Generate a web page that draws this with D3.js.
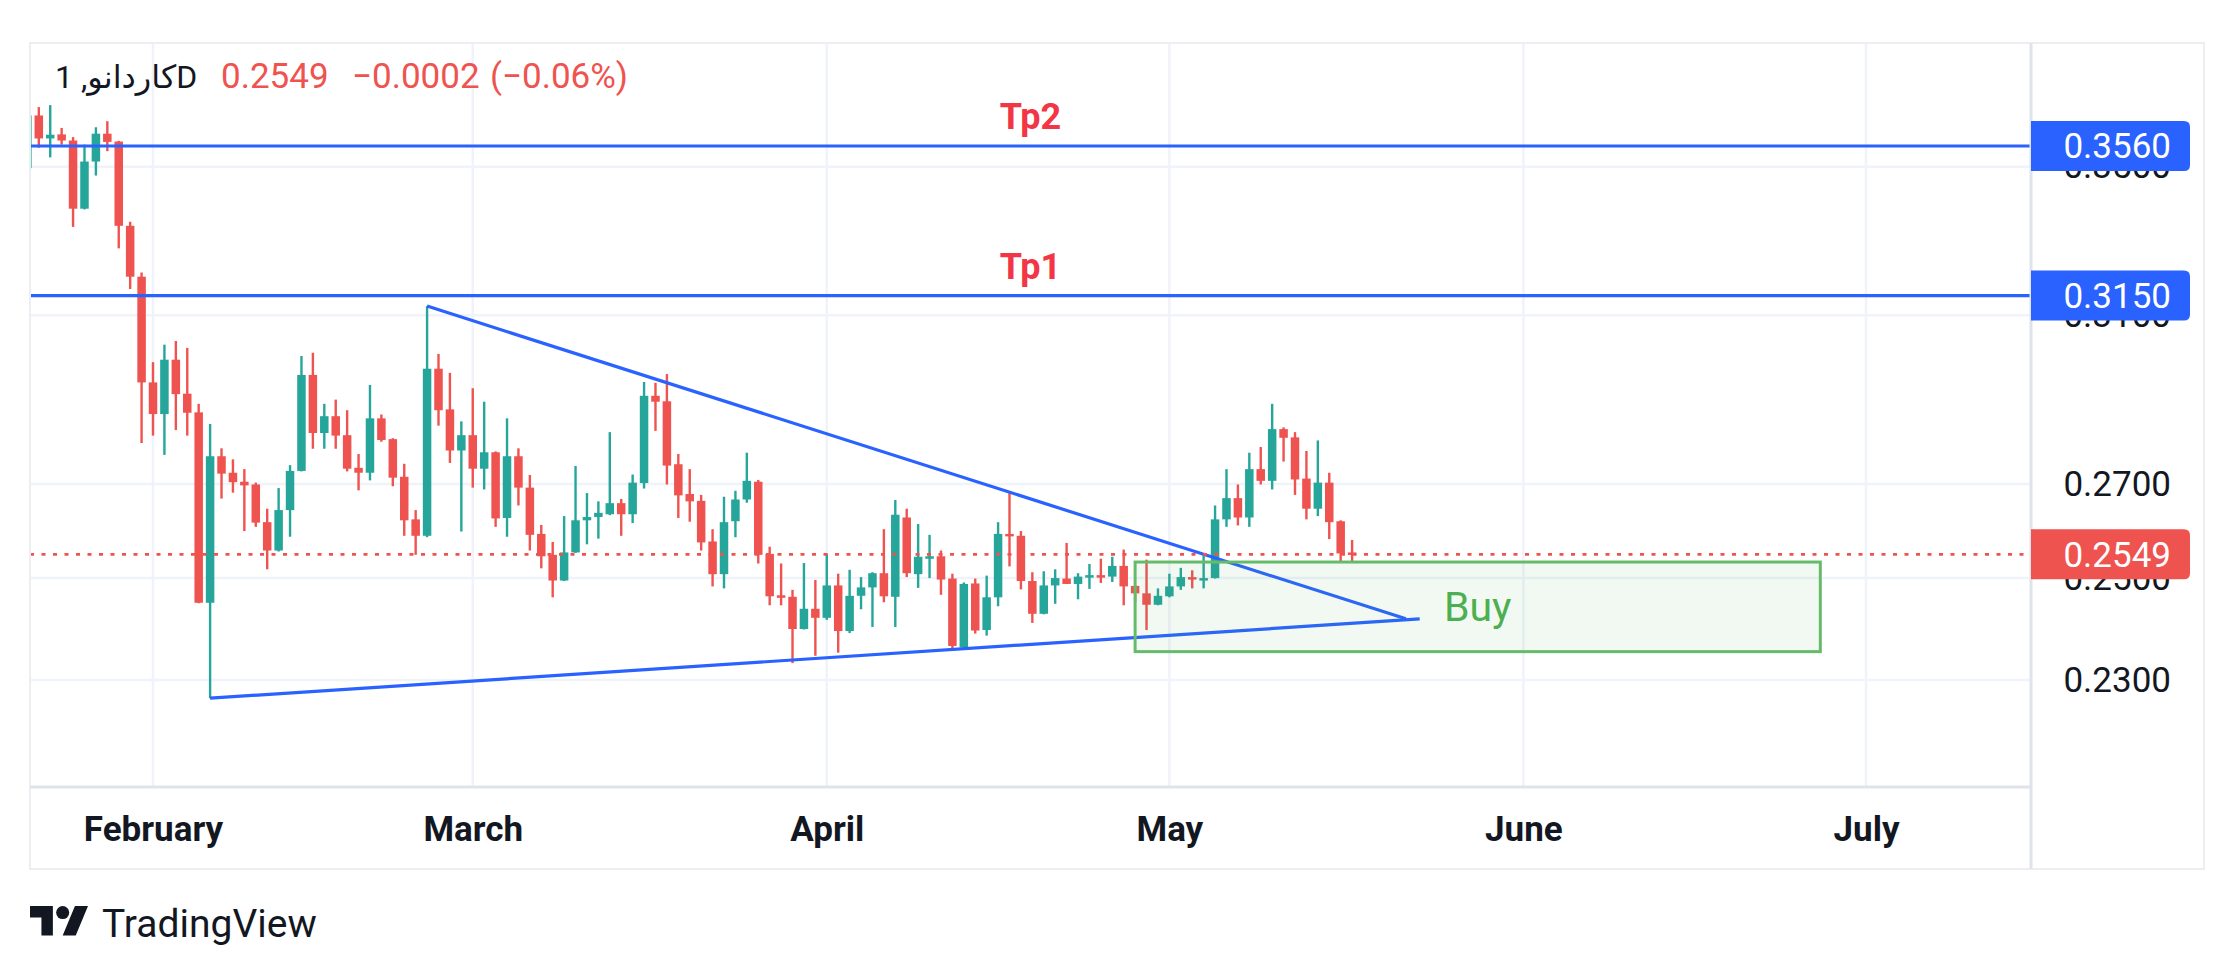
<!DOCTYPE html>
<html>
<head>
<meta charset="utf-8">
<script src="https://cdn.jsdelivr.net/npm/d3@7"></script>
<style>
  body { margin: 0; background: #fff; }
  text { font-family: Roboto, "DejaVu Sans", sans-serif; }
</style>
</head>
<body>
<script>
// daily candles, one per day from firstDay to lastDay
const firstDay = "2025-01-21";
const lastDay = "2025-05-17";

const opens = [
  0.3496,0.3650,0.3582,0.3594,0.3576,0.3382,0.3515,0.3596,0.3573,0.3335,
  0.3199,0.2934,0.2859,0.2989,0.2907,0.2863,0.2450,0.2762,0.2725,0.2705,
  0.2699,0.2617,0.2557,0.2643,0.2729,0.2952,0.2815,0.2854,0.2810,0.2736,
  0.2725,0.2849,0.2801,0.2716,0.2623,0.2588,0.2967,0.2870,0.2775,0.2810,
  0.2734,0.2771,0.2626,0.2762,0.2692,0.2592,0.2548,0.2495,0.2553,0.2621,
  0.2628,0.2634,0.2658,0.2634,0.2702,0.2902,0.2889,0.2744,0.2678,0.2663,
  0.2576,0.2508,0.2619,0.2666,0.2705,0.2550,0.2465,0.2462,0.2398,0.2438,
  0.2420,0.2485,0.2394,0.2464,0.2481,0.2510,0.2462,0.2627,0.2508,0.2544,
  0.2545,0.2499,0.2362,0.2489,0.2396,0.2461,0.2592,0.2588,0.2494,0.2428,
  0.2485,0.2499,0.2488,0.2502,0.2506,0.2503,0.2525,0.2484,0.2469,0.2446,
  0.2463,0.2483,0.2502,0.2497,0.2500,0.2623,0.2669,0.2627,0.2733,0.2707,
  0.2824,0.2805,0.2712,0.2646,0.2703,0.2619,0.2553
];
const highs = [
  0.3660,0.3675,0.3681,0.3613,0.3586,0.3564,0.3615,0.3633,0.3575,0.3346,
  0.3210,0.2983,0.3026,0.3035,0.3018,0.2883,0.2836,0.2780,0.2755,0.2733,
  0.2703,0.2646,0.2691,0.2742,0.2998,0.3006,0.2883,0.2893,0.2868,0.2767,
  0.2928,0.2858,0.2803,0.2745,0.2643,0.3123,0.3003,0.2957,0.2842,0.2920,
  0.2888,0.2773,0.2849,0.2780,0.2720,0.2611,0.2575,0.2630,0.2740,0.2680,
  0.2662,0.2817,0.2667,0.2721,0.2935,0.2933,0.2954,0.2767,0.2733,0.2676,
  0.2602,0.2672,0.2685,0.2770,0.2709,0.2565,0.2530,0.2476,0.2531,0.2496,
  0.2550,0.2509,0.2517,0.2502,0.2512,0.2602,0.2665,0.2646,0.2613,0.2590,
  0.2557,0.2509,0.2491,0.2499,0.2505,0.2617,0.2680,0.2598,0.2512,0.2514,
  0.2518,0.2573,0.2510,0.2529,0.2540,0.2544,0.2559,0.2486,0.2538,0.2479,
  0.2509,0.2521,0.2516,0.2549,0.2653,0.2733,0.2699,0.2770,0.2783,0.2883,
  0.2828,0.2817,0.2774,0.2798,0.2725,0.2621,0.2579
];
const lows = [
  0.3490,0.3555,0.3527,0.3564,0.3332,0.3380,0.3475,0.3545,0.3274,0.3167,
  0.2792,0.2809,0.2765,0.2822,0.2809,0.2449,0.2266,0.2668,0.2681,0.2598,
  0.2607,0.2518,0.2555,0.2586,0.2728,0.2779,0.2779,0.2779,0.2728,0.2686,
  0.2708,0.2795,0.2695,0.2588,0.2548,0.2585,0.2832,0.2747,0.2597,0.2692,
  0.2688,0.2607,0.2586,0.2653,0.2557,0.2520,0.2461,0.2494,0.2552,0.2570,
  0.2582,0.2632,0.2588,0.2615,0.2690,0.2820,0.2699,0.2626,0.2618,0.2557,
  0.2483,0.2479,0.2585,0.2659,0.2530,0.2445,0.2445,0.2332,0.2397,0.2346,
  0.2416,0.2352,0.2390,0.2437,0.2402,0.2451,0.2402,0.2502,0.2480,0.2500,
  0.2466,0.2358,0.2360,0.2389,0.2385,0.2443,0.2524,0.2477,0.2410,0.2427,
  0.2448,0.2488,0.2457,0.2478,0.2490,0.2492,0.2445,0.2451,0.2396,0.2445,
  0.2461,0.2476,0.2479,0.2479,0.2499,0.2607,0.2610,0.2607,0.2699,0.2688,
  0.2750,0.2676,0.2623,0.2630,0.2581,0.2532,0.2532
];
const closes = [
  0.3650,0.3582,0.3593,0.3576,0.3382,0.3515,0.3596,0.3572,0.3335,0.3199,
  0.2934,0.2859,0.2989,0.2906,0.2862,0.2450,0.2762,0.2723,0.2704,0.2697,
  0.2616,0.2557,0.2643,0.2729,0.2952,0.2815,0.2854,0.2809,0.2734,0.2725,
  0.2849,0.2799,0.2714,0.2621,0.2588,0.2967,0.2868,0.2775,0.2810,0.2734,
  0.2771,0.2625,0.2762,0.2692,0.2590,0.2545,0.2495,0.2553,0.2621,0.2628,
  0.2637,0.2658,0.2634,0.2703,0.2902,0.2888,0.2741,0.2675,0.2662,0.2574,
  0.2508,0.2617,0.2666,0.2707,0.2548,0.2463,0.2461,0.2398,0.2438,0.2420,
  0.2485,0.2394,0.2464,0.2481,0.2510,0.2463,0.2633,0.2510,0.2544,0.2545,
  0.2497,0.2365,0.2488,0.2395,0.2461,0.2592,0.2588,0.2494,0.2428,0.2485,
  0.2500,0.2488,0.2503,0.2506,0.2503,0.2525,0.2483,0.2469,0.2446,0.2464,
  0.2483,0.2502,0.2497,0.2500,0.2623,0.2669,0.2627,0.2733,0.2707,0.2824,
  0.2804,0.2710,0.2646,0.2703,0.2617,0.2551,0.2549
];

const priceTicks = [0.23, 0.25, 0.27, 0.31, 0.35];
const monthTicks = ["2025-02-01", "2025-03-01", "2025-04-01", "2025-05-01", "2025-06-01", "2025-07-01"];

// target lines
const targetNames = ["Tp2", "Tp1"];
const targetPrices = [0.3560, 0.3150];

// triangle trend lines: [time, price]
const upperTrend = [["2025-02-25T00:00Z", 0.3123], ["2025-05-21T17:00Z", 0.2418]];
const lowerTrend = [["2025-02-06T00:00Z", 0.2266], ["2025-05-22T22:00Z", 0.2418]];

// buy zone rectangle
const buyDates = ["2025-04-28", "2025-06-27"];
const buyPrices = [0.2533, 0.2354];

const symbolTitle = "کاردانو, 1D";
const lastPrice = 0.2549;
const priceChange = -0.0002;
const changePct = -0.06;

const width = 2235;
const height = 975;
const paneLeft = 30, paneTop = 43, paneRight = 2031, paneBottom = 787, frameRight = 2204, frameBottom = 869;

const UP = "#26a69a", DOWN = "#ef5350", BLUE = "#2962ff", GRID = "#f0f3fa", INK = "#131722";

const parseDay = d3.utcParse("%Y-%m-%d");
const days = d3.utcDay.range(parseDay(firstDay), d3.utcDay.offset(parseDay(lastDay), 1));
const candles = days.map((d, i) => ({ date: d, o: opens[i], h: highs[i], l: lows[i], c: closes[i] }));

const svg = d3.select("body").append("svg").attr("width", width).attr("height", height);

/** scales */
const x = d3.scaleUtc()
  .domain([parseDay("2025-02-01"), parseDay("2025-07-01")])
  .range([153, 1866]);
const y = d3.scaleLog()
  .domain([0.23, 0.27])
  .range([680, 484]);

svg.append("clipPath").attr("id", "pane")
  .append("rect").attr("x", paneLeft).attr("y", paneTop)
  .attr("width", paneRight - paneLeft).attr("height", paneBottom - paneTop);

/** grid */
const grid = svg.append("g").attr("clip-path", "url(#pane)");
grid.selectAll(".hg").data(priceTicks).enter().append("line")
  .attr("x1", paneLeft).attr("x2", paneRight)
  .attr("y1", d => y(d)).attr("y2", d => y(d))
  .attr("stroke", GRID).attr("stroke-width", 2.5);
grid.selectAll(".vg").data(monthTicks.map(parseDay)).enter().append("line")
  .attr("x1", d => x(d)).attr("x2", d => x(d))
  .attr("y1", paneTop).attr("y2", paneBottom)
  .attr("stroke", GRID).attr("stroke-width", 2.5);

/** candles */
const bodyW = 8.5;
const plot = svg.append("g").attr("clip-path", "url(#pane)");
const cg = plot.selectAll(".candle").data(candles).enter().append("g")
  .attr("fill", d => d.c >= d.o ? UP : DOWN);
cg.append("rect")
  .attr("x", d => x(d.date) - 1.2).attr("width", 2.4)
  .attr("y", d => y(d.h)).attr("height", d => Math.max(1, y(d.l) - y(d.h)));
cg.append("rect")
  .attr("x", d => x(d.date) - bodyW / 2).attr("width", bodyW)
  .attr("y", d => y(Math.max(d.o, d.c)))
  .attr("height", d => Math.max(2.5, Math.abs(y(d.o) - y(d.c))));

/** target lines */
plot.selectAll(".tp").data(targetPrices).enter().append("line")
  .attr("x1", paneLeft).attr("x2", paneRight)
  .attr("y1", d => y(d)).attr("y2", d => y(d))
  .attr("stroke", BLUE).attr("stroke-width", 3.2);
plot.selectAll(".tpl").data(targetPrices).enter().append("text")
  .attr("x", (paneLeft + paneRight) / 2).attr("y", d => y(d) - 17)
  .attr("text-anchor", "middle").attr("font-size", 36).attr("font-weight", "bold")
  .attr("fill", "#f23645")
  .text((d, i) => targetNames[i]);

/** triangle */
const line = d3.line().x(d => x(new Date(d[0]))).y(d => y(d[1]));
plot.selectAll(".trend").data([upperTrend, lowerTrend]).enter().append("path")
  .attr("d", line).attr("fill", "none")
  .attr("stroke", BLUE).attr("stroke-width", 3.2);

/** buy zone */
const bx0 = x(parseDay(buyDates[0])), bx1 = x(parseDay(buyDates[1]));
const by0 = y(buyPrices[0]), by1 = y(buyPrices[1]);
plot.append("rect")
  .attr("x", bx0).attr("y", by0).attr("width", bx1 - bx0).attr("height", by1 - by0)
  .attr("fill", "rgba(76,175,80,0.07)").attr("stroke", "#66bb6a").attr("stroke-width", 3);
plot.append("text")
  .attr("x", (bx0 + bx1) / 2).attr("y", (by0 + by1) / 2).attr("dy", "0.35em")
  .attr("text-anchor", "middle").attr("font-size", 41).attr("fill", "#4caf50")
  .text("Buy");

/** last price dotted line */
plot.append("line")
  .attr("x1", paneLeft).attr("x2", paneRight)
  .attr("y1", y(lastPrice)).attr("y2", y(lastPrice))
  .attr("stroke", DOWN).attr("stroke-width", 2.8).attr("stroke-dasharray", "4 7.5");

/** frame and separators */
svg.append("rect")
  .attr("x", paneLeft).attr("y", paneTop)
  .attr("width", frameRight - paneLeft).attr("height", frameBottom - paneTop)
  .attr("fill", "none").attr("stroke", "#eceef2").attr("stroke-width", 2);
svg.append("line")
  .attr("x1", paneLeft).attr("x2", paneRight).attr("y1", paneBottom).attr("y2", paneBottom)
  .attr("stroke", "#e0e3eb").attr("stroke-width", 3);
svg.append("line")
  .attr("x1", paneRight).attr("x2", paneRight).attr("y1", paneTop).attr("y2", frameBottom)
  .attr("stroke", "#e0e3eb").attr("stroke-width", 3);

/** price axis */
const axisY = d3.axisRight(y).tickValues(priceTicks).tickSize(0).tickFormat(d3.format(".4f"));
const gy = svg.append("g").attr("transform", "translate(" + paneRight + ",0)").call(axisY);
gy.select(".domain").remove();
gy.selectAll("text")
  .attr("x", 140).attr("text-anchor", "end")
  .attr("font-size", 35).attr("fill", INK)
  .style("font-family", "Roboto, sans-serif");

// price labels on axis
const labelPrices = targetPrices.concat([lastPrice]);
const labelColors = [BLUE, BLUE, DOWN];
const labH = 50, labW = 159, r = 6;
const lab = svg.selectAll(".plab").data(labelPrices).enter().append("g")
  .attr("transform", d => "translate(" + paneRight + "," + y(d) + ")");
lab.append("path")
  .attr("d", "M0," + (-labH / 2) + "H" + (labW - r) + "Q" + labW + "," + (-labH / 2) + " " + labW + "," + (-labH / 2 + r)
    + "V" + (labH / 2 - r) + "Q" + labW + "," + (labH / 2) + " " + (labW - r) + "," + (labH / 2) + "H0Z")
  .attr("fill", (d, i) => labelColors[i]);
lab.append("text")
  .attr("x", 140).attr("dy", "0.35em").attr("text-anchor", "end")
  .attr("font-size", 35).attr("fill", "#fff")
  .text(d => d3.format(".4f")(d));

/** time axis */
const axisX = d3.axisBottom(x).tickValues(monthTicks.map(parseDay)).tickSize(0).tickFormat(d3.utcFormat("%B"));
const gx = svg.append("g").attr("transform", "translate(0," + paneBottom + ")").call(axisX);
gx.select(".domain").remove();
gx.selectAll("text")
  .attr("y", 54).attr("dy", null)
  .attr("font-size", 35).attr("font-weight", "bold").attr("fill", INK)
  .style("font-family", "Roboto, sans-serif");

/** header */
const fmtSigned = v => (v < 0 ? "\u2212" : "+") + Math.abs(v).toFixed(4);
svg.append("text").attr("x", 55).attr("y", 88).attr("font-size", 32).attr("fill", INK).text(symbolTitle);
const hv = svg.append("text").attr("y", 88).attr("font-size", 35).attr("fill", DOWN);
hv.append("tspan").attr("x", 221).text(lastPrice.toFixed(4));
hv.append("tspan").attr("x", 352).text(fmtSigned(priceChange));
hv.append("tspan").attr("x", 490).text("(" + (changePct < 0 ? "\u2212" : "+") + Math.abs(changePct).toFixed(2) + "%)");

/** logo */
const logo = svg.append("g").attr("transform", "translate(30,899.5) scale(1.634)").attr("fill", INK);
logo.append("path").attr("d", "M14 22H7V11H0V4h14v18zM28 22h-8l7.5-18h8L28 22z");
logo.append("circle").attr("cx", 20).attr("cy", 8).attr("r", 4);
svg.append("text").attr("x", 102).attr("y", 937).attr("font-size", 39).attr("fill", INK).text("TradingView");
</script>
</body>
</html>
